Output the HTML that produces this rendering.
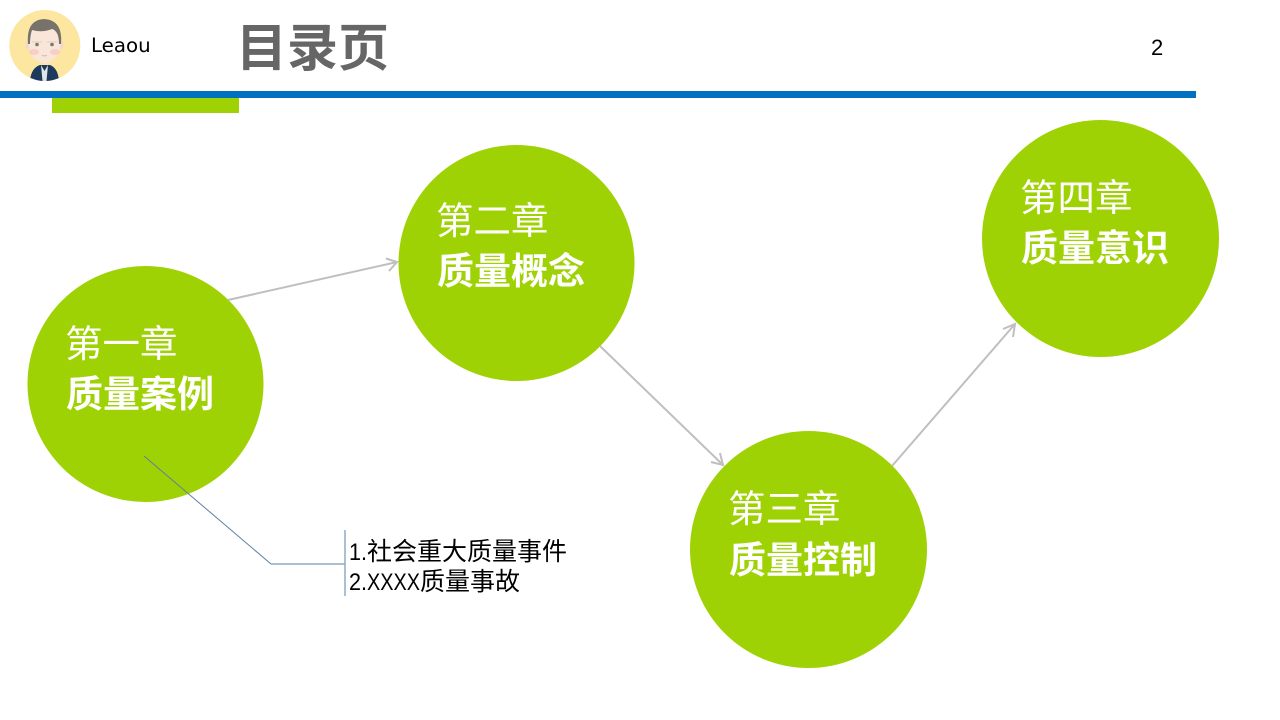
<!DOCTYPE html>
<html><head><meta charset="utf-8"><style>
html,body{margin:0;padding:0;width:1280px;height:720px;overflow:hidden;background:#fff}
svg{display:block}
text{font-family:"Liberation Sans","Noto Sans CJK SC",sans-serif}
.w{fill:#fff;font-size:37.500px}
.b{fill:#fff;font-size:37px;font-weight:700}
</style></head><body>
<svg width="1280" height="720" viewBox="0 0 1280 720" xmlns="http://www.w3.org/2000/svg">
<defs><clipPath id="av"><circle cx="44.800" cy="45.500" r="35.500"/></clipPath></defs>
<rect width="1280" height="720" fill="#fff"/>
<!-- avatar -->
<circle cx="44.800" cy="45.500" r="35.500" fill="#fde6a0"/>
<g clip-path="url(#av)">
<path d="M30 81 Q31 68 40 65 L50 65 Q58 68 59 81Z" fill="#1d3a5c"/>
<path d="M41 65 L44.500 71 L48 65 L46.500 81 H42.500Z" fill="#dfe6ea"/>
<ellipse cx="27.500" cy="45" rx="2" ry="4" fill="#f3d8c6"/><ellipse cx="61.500" cy="45" rx="2" ry="4" fill="#f3d8c6"/>
<ellipse cx="44.500" cy="43" rx="16" ry="20" fill="#f9e6d8"/>
<path d="M28 44 Q26 20 44 19 Q63 20 61 44 L59 44 Q59 31 52 29 Q42 33 32 30 Q30 36 30 44Z" fill="#77726c"/>
<circle cx="37" cy="44.500" r="1.800" fill="#7a776c"/><circle cx="52" cy="44.500" r="1.800" fill="#7a776c"/>
<path d="M32 42 H42 M47 42 H57" stroke="#d8d2c8" stroke-width="1" fill="none"/>
<ellipse cx="34" cy="52" rx="5" ry="3" fill="#f8cfc8"/><ellipse cx="55" cy="52" rx="5" ry="3" fill="#f8cfc8"/>
<path d="M42 55 Q44.500 57 47 55" stroke="#d9b8a6" stroke-width="1" fill="none"/>
</g>
<text x="91" y="52" style="font-family:'DejaVu Sans',sans-serif;font-size:19.800px" fill="#000">Leaou</text>
<text x="236" y="66" font-size="51" font-weight="700" fill="#666">目录页</text>
<text x="1151" y="55" font-size="22" fill="#000">2</text>
<!-- header bars -->
<rect x="0" y="91" width="1196" height="7" fill="#0070c0"/>
<rect x="52" y="98" width="187" height="15" fill="#9fd204"/>
<!-- circles -->
<circle cx="145.500" cy="384" r="118" fill="#9fd204"/>
<circle cx="516.500" cy="263" r="118" fill="#9fd204"/>
<circle cx="808.500" cy="549.500" r="118.500" fill="#9fd204"/>
<circle cx="1100.500" cy="238.500" r="118.500" fill="#9fd204"/>
<!-- arrows -->
<g fill="none" stroke="#bfbfbf" stroke-width="2">
<path d="M228 300 L397 262"/><path d="M386 258.500 L397 262 L389 271"/>
<path d="M600 346 L723 465"/><path d="M720 453 L723 465 L711 462"/>
<path d="M892 466 L1015 324"/><path d="M1003 329 L1015 324 L1013 337"/>
</g>
<!-- callout -->
<path d="M144 456 L271 564" fill="none" stroke="#5f7f9e" stroke-width="1"/>
<path d="M271 564 H345" fill="none" stroke="#8faac4" stroke-width="1.500"/>
<path d="M345 530 V596" fill="none" stroke="#8faac4" stroke-width="1.500"/>
<text x="349" y="560" font-size="24" fill="#000" textLength="18" lengthAdjust="spacingAndGlyphs">1.</text>
<text x="367" y="560" font-size="25" fill="#000">社会重大质量事件</text>
<text x="349" y="590" font-size="24" fill="#000" textLength="18" lengthAdjust="spacingAndGlyphs">2.</text>
<text x="367" y="590" font-size="24" fill="#000" textLength="53" lengthAdjust="spacingAndGlyphs">XXXX</text>
<text x="420" y="590" font-size="25" fill="#000">质量事故</text>
<!-- circle labels -->
<text class="w" x="65" y="357">第一章</text><text class="b" x="66" y="407">质量案例</text>
<text class="w" x="436" y="234">第二章</text><text class="b" x="437" y="284">质量概念</text>
<text class="w" x="728" y="522">第三章</text><text class="b" x="729" y="573">质量控制</text>
<text class="w" x="1020" y="211">第四章</text><text class="b" x="1021" y="261">质量意识</text>
</svg>
</body></html>
